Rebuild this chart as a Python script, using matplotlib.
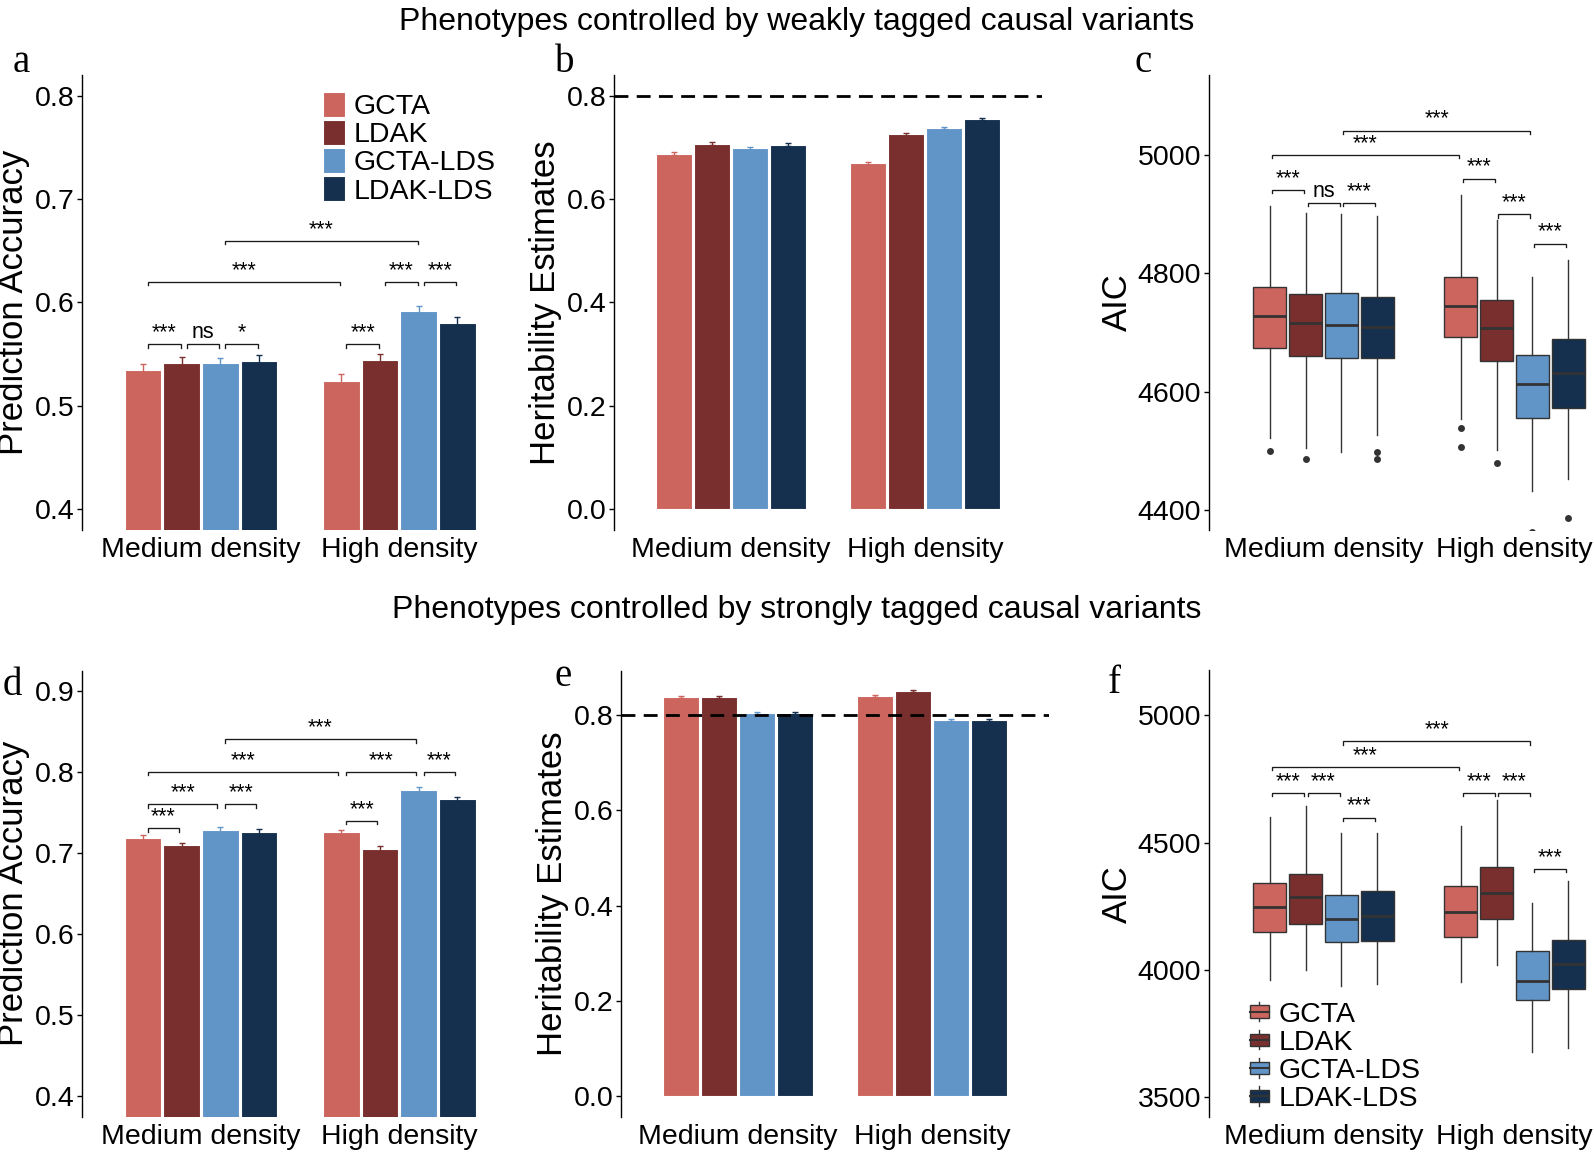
import matplotlib
matplotlib.use('Agg')
import matplotlib.pyplot as plt
from matplotlib.patches import Rectangle, Patch
from matplotlib.lines import Line2D
from matplotlib.legend_handler import HandlerBase

plt.rcParams['font.family'] = ['Liberation Sans', 'DejaVu Sans']

# ---------------- data ----------------
methods = ['GCTA', 'LDAK', 'GCTA-LDS', 'LDAK-LDS']
colors = ['#CC655E', '#782F2D', '#6195C8', '#152F4E']
densities = ['Medium density', 'High density']

# panel a: prediction accuracy, weakly tagged  [medium], [high]
acc_weak = [[0.5346, 0.5416, 0.5410, 0.5436], [0.5242, 0.5442, 0.5916, 0.5800]]
acc_weak_err = [[0.0055, 0.0055, 0.0055, 0.0055], [0.0060, 0.0060, 0.0050, 0.0060]]
# panel b: heritability, weakly tagged
h2_weak = [[0.6877, 0.7070, 0.6980, 0.7050], [0.6690, 0.7257, 0.7374, 0.7554]]
h2_weak_err = [[0.003, 0.003, 0.003, 0.003], [0.003, 0.003, 0.002, 0.002]]
# panel c: AIC, weakly tagged (box stats)
aicw_lo = [[4521, 4504, 4497, 4526], [4554, 4501, 4432, 4453]]
aicw_q1 = [[4673, 4660, 4656, 4656], [4692, 4652, 4555, 4573]]
aicw_med = [[4728, 4716, 4712, 4709], [4744, 4708, 4612, 4632]]
aicw_q3 = [[4776, 4765, 4766, 4760], [4793, 4755, 4662, 4688]]
aicw_hi = [[4914, 4901, 4900, 4896], [4932, 4890, 4794, 4822]]
aicw_fliers = [[[4499], [4486], [], [4497, 4486]], [[4539, 4506], [4480], [4362], [4386]]]

# panel d: prediction accuracy, strongly tagged
acc_strong = [[0.7185, 0.7090, 0.7284, 0.7255], [0.7251, 0.7045, 0.7778, 0.7658]]
acc_strong_err = [[0.0035, 0.0035, 0.0035, 0.0035], [0.0035, 0.0035, 0.0030, 0.0030]]
# panel e: heritability, strongly tagged
h2_strong = [[0.8371, 0.8385, 0.8035, 0.8049], [0.8406, 0.8497, 0.7900, 0.7900]]
h2_strong_err = [[0.002, 0.002, 0.002, 0.002], [0.002, 0.002, 0.002, 0.002]]
# panel f: AIC, strongly tagged
aics_lo = [[3960, 4000, 3936, 3943], [3953, 4017, 3677, 3692]]
aics_q1 = [[4147, 4180, 4109, 4114], [4129, 4198, 3879, 3923]]
aics_med = [[4248, 4287, 4199, 4211], [4227, 4300, 3954, 4024]]
aics_q3 = [[4342, 4376, 4293, 4308], [4330, 4405, 4074, 4116]]
aics_hi = [[4600, 4644, 4539, 4537], [4565, 4666, 4264, 4348]]
aics_fliers = [[[], [], [], []], [[], [], [], []]]

# significance annotations: (group1, method1, group2, method2, y, label)
sig_a = [(0, 0, 0, 1, 0.5594, '***'), (0, 1, 0, 2, 0.5594, 'ns'), (0, 2, 0, 3, 0.5594, '*'),
         (1, 0, 1, 1, 0.5594, '***'), (1, 1, 1, 2, 0.6200, '***'), (1, 2, 1, 3, 0.6200, '***'),
         (0, 0, 1, 0, 0.6200, '***'), (0, 2, 1, 2, 0.6594, '***')]
sig_c = [(0, 0, 0, 1, 4941, '***'), (0, 1, 0, 2, 4919, 'ns'), (0, 2, 0, 3, 4919, '***'),
         (0, 0, 1, 0, 5000, '***'), (0, 2, 1, 2, 5041, '***'), (1, 0, 1, 1, 4960, '***'),
         (1, 1, 1, 2, 4900, '***'), (1, 2, 1, 3, 4850, '***')]
sig_d = [(0, 0, 0, 1, 0.7300, '***'), (0, 0, 0, 2, 0.7600, '***'), (0, 2, 0, 3, 0.7600, '***'),
         (1, 0, 1, 1, 0.7395, '***'), (0, 0, 1, 0, 0.8000, '***'), (1, 0, 1, 2, 0.8000, '***'),
         (1, 2, 1, 3, 0.8000, '***'), (0, 2, 1, 2, 0.8403, '***')]
sig_f = [(0, 0, 0, 1, 4695, '***'), (0, 1, 0, 2, 4695, '***'), (0, 2, 0, 3, 4598, '***'),
         (0, 0, 1, 0, 4798, '***'), (0, 2, 1, 2, 4899, '***'), (1, 0, 1, 1, 4695, '***'),
         (1, 1, 1, 2, 4695, '***'), (1, 2, 1, 3, 4397, '***')]

titles = ['Phenotypes controlled by weakly tagged causal variants',
          'Phenotypes controlled by strongly tagged causal variants']

# ---------------- layout ----------------
W, H = 1594, 1163
fig = plt.figure(figsize=(W / 100, H / 100), dpi=100)


def add_ax(l, r, t, b):
    return fig.add_axes([l / W, 1 - b / H, (r - l) / W, (b - t) / H])


BAR_SLOT = 0.195
BOX_SLOT = 0.1875
bar_off = [(i - 1.5) * BAR_SLOT for i in range(4)]
box_off = [(i - 1.5) * BOX_SLOT for i in range(4)]
TICK_FS = 20.5
LAB_FS = 25


def style(ax, ylim, yticks, fmt, ylabel):
    for s in ['top', 'right', 'bottom']:
        ax.spines[s].set_visible(False)
    ax.spines['left'].set_linewidth(1.0)
    ax.set_xlim(-0.6, 1.6)
    ax.set_ylim(*ylim)
    ax.set_yticks(yticks)
    ax.set_yticklabels([fmt.format(v) for v in yticks])
    ax.set_xticks([0, 1])
    ax.set_xticklabels(densities)
    ax.tick_params(axis='x', length=0, pad=5, labelsize=TICK_FS)
    ax.tick_params(axis='y', length=3.5, width=1.0, pad=2, labelsize=TICK_FS)
    ax.set_ylabel(ylabel, fontsize=LAB_FS, labelpad=3)
    ax.patch.set_alpha(0)


def bars(ax, vals, errs):
    for m in range(4):
        xs = [g + bar_off[m] for g in range(2)]
        hs = [vals[g][m] for g in range(2)]
        es = [errs[g][m] for g in range(2)]
        ax.bar(xs, hs, width=BAR_SLOT * 0.95, color=colors[m], edgecolor='white',
               linewidth=0.8, zorder=2)
        ax.errorbar(xs, hs, yerr=es, fmt='none', ecolor=colors[m], elinewidth=1.0,
                    capsize=2.2, capthick=1.0, zorder=3)


def boxes(ax, lo, q1, med, q3, hi, fliers):
    for m in range(4):
        stats = []
        for g in range(2):
            stats.append(dict(whislo=lo[g][m], q1=q1[g][m], med=med[g][m], q3=q3[g][m],
                              whishi=hi[g][m], fliers=fliers[g][m]))
        ax.bxp(stats, positions=[g + box_off[m] for g in range(2)], widths=0.172,
               patch_artist=True, showcaps=False, manage_ticks=False,
               boxprops=dict(facecolor=colors[m], edgecolor='#333333', linewidth=1.0),
               medianprops=dict(color='#333333', linewidth=2.0),
               whiskerprops=dict(color='#333333', linewidth=1.0),
               flierprops=dict(marker='o', markerfacecolor='#333333', markeredgecolor='none',
                               markersize=5))


def brackets(ax, sigs, off, h_px, inset=(0.02, 0.01)):
    y0, y1 = ax.get_ylim()
    leg = (y1 - y0) * 3.5 / h_px
    for g1, m1, g2, m2, y, lab in sigs:
        x1 = g1 + off[m1] + inset[0]
        x2 = g2 + off[m2] - inset[1]
        ax.plot([x1, x1, x2, x2], [y - leg, y, y, y - leg], color='#1a1a1a', lw=0.95,
                solid_joinstyle='miter', zorder=4)
        ax.annotate(lab, ((x1 + x2) / 2, y), xytext=(0, 4.3), textcoords='offset points',
                    ha='center', va='baseline', fontsize=15.5)


class BoxHandler(HandlerBase):
    def create_artists(self, legend, orig_handle, xdescent, ydescent, width, height,
                       fontsize, trans):
        fc = orig_handle.get_facecolor()
        cx = -xdescent + width / 2
        yb = -ydescent
        wl = Line2D([cx, cx], [yb + height * 0.11, yb + height * 0.89], color='#333333',
                    lw=1.0, transform=trans)
        bh = height * 0.52
        r = Rectangle((-xdescent, yb + (height - bh) / 2), width, bh, facecolor=fc,
                      edgecolor='#333333', lw=1.0, transform=trans)
        ml = Line2D([-xdescent, -xdescent + width], [yb + height / 2] * 2, color='#333333',
                    lw=1.5, transform=trans)
        return [wl, r, ml]


# ---------------- top row ----------------
ax_a = add_ax(82, 518.5, 75, 530)
bars(ax_a, acc_weak, acc_weak_err)
style(ax_a, (0.3797, 0.820), [0.4, 0.5, 0.6, 0.7, 0.8], '{:.1f}', 'Prediction Accuracy')
brackets(ax_a, sig_a, bar_off, 455, inset=(0.025, 0.005))
leg_a = ax_a.legend([Patch(facecolor=c, edgecolor='white', lw=0.8) for c in colors], methods,
                    loc='upper left', bbox_to_anchor=(0.552, 0.962), frameon=False,
                    fontsize=TICK_FS, handlelength=0.77, handleheight=0.95,
                    handletextpad=0.3, labelspacing=0, borderpad=0, borderaxespad=0)

ax_b = add_ax(614, 1042, 75, 530)
bars(ax_b, h2_weak, h2_weak_err)
style(ax_b, (-0.0406, 0.840), [0.0, 0.2, 0.4, 0.6, 0.8], '{:.1f}', 'Heritability Estimates')
ax_b.axhline(0.8, color='black', ls=(0, (5, 3)), lw=2.0, zorder=5)

ax_c = add_ax(1209, 1629, 75, 530)
boxes(ax_c, aicw_lo, aicw_q1, aicw_med, aicw_q3, aicw_hi, aicw_fliers)
style(ax_c, (4366, 5135), [4400, 4600, 4800, 5000], '{:d}', 'AIC')
brackets(ax_c, sig_c, box_off, 455, inset=(0.01, 0.01))

# ---------------- bottom row ----------------
ax_d = add_ax(82, 518.5, 670.7, 1116.7)
bars(ax_d, acc_strong, acc_strong_err)
style(ax_d, (0.374, 0.9247), [0.4, 0.5, 0.6, 0.7, 0.8, 0.9], '{:.1f}', 'Prediction Accuracy')
brackets(ax_d, sig_d, bar_off, 446, inset=(0.025, 0.015))

ax_e = add_ax(621, 1048.7, 670.7, 1116.7)
bars(ax_e, h2_strong, h2_strong_err)
style(ax_e, (-0.0427, 0.893), [0.0, 0.2, 0.4, 0.6, 0.8], '{:.1f}', 'Heritability Estimates')
ax_e.axhline(0.8, color='black', ls=(0, (5, 3)), lw=2.0, zorder=5)

ax_f = add_ax(1209, 1629, 670.5, 1117)
boxes(ax_f, aics_lo, aics_q1, aics_med, aics_q3, aics_hi, aics_fliers)
style(ax_f, (3420, 5177), [3500, 4000, 4500, 5000], '{:d}', 'AIC')
brackets(ax_f, sig_f, box_off, 446, inset=(0.01, 0.01))
hf = [Patch(facecolor=c) for c in colors]
ax_f.legend(hf, methods, loc='upper left', bbox_to_anchor=(0.0976, 0.263), frameon=False,
            fontsize=TICK_FS, handlelength=0.66, handleheight=0.95, handletextpad=0.36,
            labelspacing=0, borderpad=0, borderaxespad=0,
            handler_map={h: BoxHandler() for h in hf})

# ---------------- titles & panel letters ----------------
fig.text(0.5, 1 - 30 / H, titles[0], ha='center', va='baseline', fontsize=23)
fig.text(0.5, 1 - 618 / H, titles[1], ha='center', va='baseline', fontsize=23)
letters = [('a', 13, 72), ('b', 555, 72), ('c', 1135, 72),
           ('d', 3, 695), ('e', 555, 686), ('f', 1108, 693)]
for t, x, y in letters:
    fig.text(x / W, 1 - y / H, t, ha='left', va='baseline', fontsize=28,
             family=['Liberation Serif', 'DejaVu Serif'])

fig.savefig('out.png', dpi=100)
